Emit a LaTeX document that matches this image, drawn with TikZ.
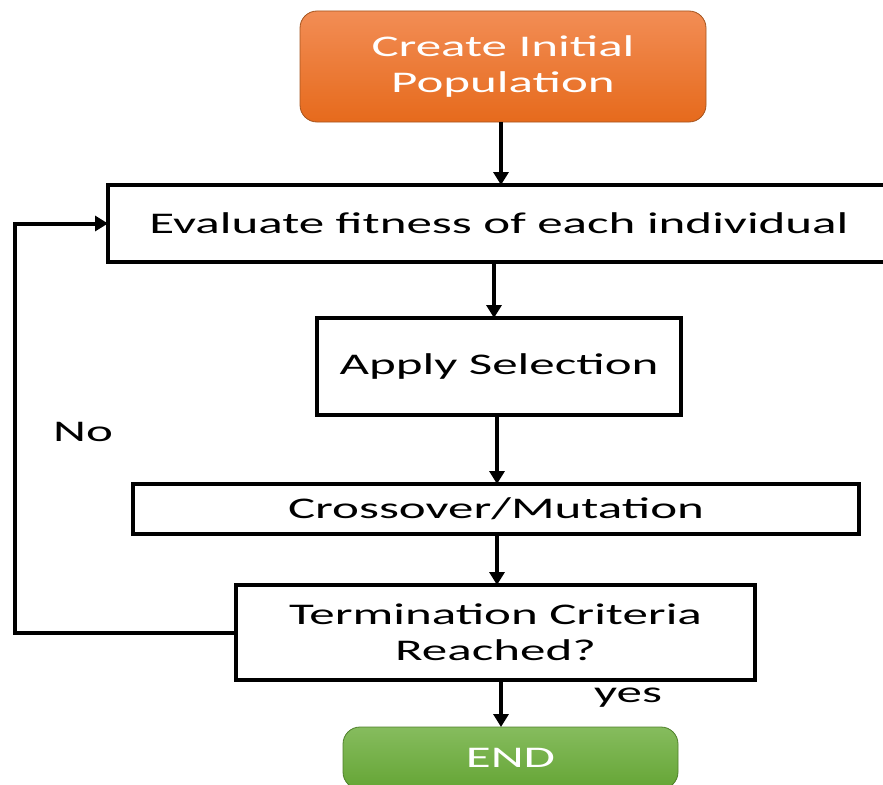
\documentclass[tikz,border=0pt]{standalone}
\usepackage{fontspec}
\setmainfont[FakeStretch=1.7]{Carlito}
\usepackage{xcolor}
\usetikzlibrary{arrows.meta}
\definecolor{orangetop}{HTML}{F28D55}
\definecolor{orangebot}{HTML}{E66A1C}
\definecolor{orangeline}{HTML}{A4541E}
\definecolor{greentop}{HTML}{86BC5E}
\definecolor{greenbot}{HTML}{65A535}
\definecolor{greenline}{HTML}{4E7F2A}
\newcommand{\boxfont}{\fontsize{30}{36}\selectfont}

\begin{document}
\begin{tikzpicture}[x=1pt, y=-1pt,
  every node/.style={inner sep=0pt, outer sep=0pt, font=\boxfont},
  stepbox/.style={draw=black, line width=4pt, fill=white, align=center},
  termbox/.style={rounded corners=17pt, line width=0.8pt, text=white, align=center},
  flow/.style={line width=4pt, -{Triangle[length=13pt,width=15pt]}}]
\useasboundingbox (0,0) rectangle (883,784);
% ---- boxes
\node[termbox, draw=orangeline, top color=orangetop, bottom color=orangebot,
  minimum width=406pt, minimum height=111pt] (create) at (503,66.5)
  {Create Initial\\Population};
\node[stepbox, minimum width=782pt, minimum height=77pt] (evaluate) at (499,223.5)
  {Evaluate fitness of each individual};
\node[stepbox, minimum width=364pt, minimum height=97pt] (select) at (499,366.5)
  {Apply Selection};
\node[stepbox, minimum width=726pt, minimum height=50pt] (cross) at (496,509)
  {Crossover/Mutation};
\node[stepbox, minimum width=519pt, minimum height=95pt] (term) at (495.5,632.5)
  {Termination Criteria\\Reached?};
\node[termbox, draw=greenline, top color=greentop, bottom color=greenbot,
  minimum width=335pt, minimum height=62pt] (finish) at (510.5,758)
  {END};
% ---- labels
\node (no) at (83,432) {No};
\node (yes) at (628,698) {yes};
% ---- connectors
\draw[flow] (create.south -| 501,0) -- (evaluate.north -| 501,0);
\draw[flow] (evaluate.south -| 494,0) -- (select.north -| 494,0);
\draw[flow] (select.south -| 497,0) -- (cross.north -| 497,0);
\draw[flow] (cross.south -| 497,0) -- (term.north -| 497,0);
\draw[flow] (term.south -| 501,0) -- (finish.north -| 501,0);
\coordinate (loop) at (15,430);
\draw[flow] (term.west) -- (term.west -| loop) |- (evaluate.west);
\end{tikzpicture}
\end{document}
